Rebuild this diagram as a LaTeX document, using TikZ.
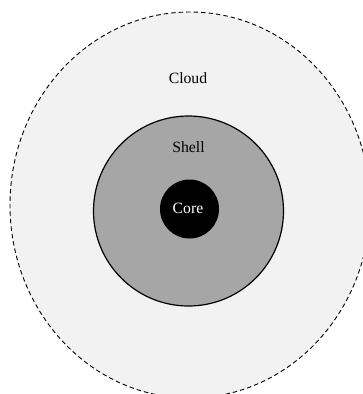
\documentclass[tikz,border=0pt]{standalone}
\usepackage{fontspec}
\setmainfont{Liberation Serif}
\usetikzlibrary{shapes.geometric}
\begin{document}
\begin{tikzpicture}[x=1bp,y=-1bp,
  lbl/.style={font=\fontsize{15.7bp}{18bp}\selectfont, inner sep=0pt, anchor=base},
  cloudzone/.style={ellipse, draw=black, line width=0.9bp, dash pattern=on 4.5bp off 3bp, fill=cloudgray, inner sep=0pt, minimum width=360bp, minimum height=386bp},
  shellzone/.style={circle, draw=black, line width=1.2bp, fill=shellgray, inner sep=0pt, minimum size=190bp},
  corezone/.style={circle, fill=black, inner sep=0pt, minimum size=59bp}]
\definecolor{cloudgray}{HTML}{F2F2F2}
\definecolor{shellgray}{HTML}{A6A6A6}
\useasboundingbox (0,0) rectangle (363,394);
\clip (0,0) rectangle (363,394);
\fill[white] (0,0) rectangle (363,394);
\node[cloudzone] (cloud) at (190,205) {};
\node[shellzone] (shell) at (188.5,211) {};
\node[corezone] (core) at (189.5,209) {};
\node[lbl] (cloudlbl) at (188,83) {Cloud};
\node[lbl] (shelllbl) at (188.5,152.5) {Shell};
\node[lbl, text=white] (corelbl) at (188,213.5) {Core};
\end{tikzpicture}
\end{document}
